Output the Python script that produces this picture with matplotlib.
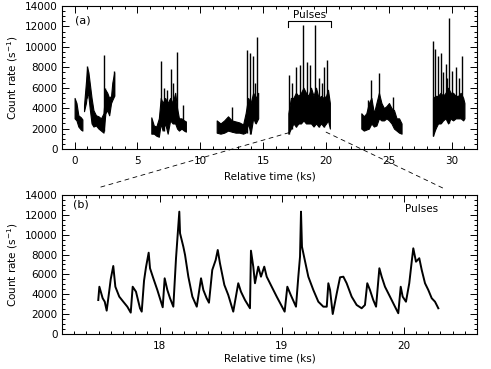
import matplotlib
matplotlib.use("Agg")
import matplotlib.pyplot as plt
from matplotlib.ticker import MultipleLocator
from matplotlib.patches import ConnectionPatch

# ---- panel (a): whole observation, band envelope per segment (ks, counts/s)
seg1_t = [0.0, 0.15, 0.3, 0.5, 0.62]
seg1_lo = [3000, 2800, 2200, 1900, 1800]
seg1_hi = [5000, 4500, 3300, 3100, 2900]

seg2_t = [0.75, 0.9, 1.0, 1.1, 1.2, 1.35, 1.5, 1.7, 1.9, 2.1, 2.3, 2.45, 2.6, 2.75, 2.9, 3.0, 3.15]
seg2_lo = [3700, 4500, 5500, 5200, 4000, 2500, 2200, 2300, 2000, 1800, 1600, 3500, 3800, 3300, 4500, 4800, 5200]
seg2_hi = [4300, 6500, 8000, 7500, 6500, 5000, 3800, 3300, 3200, 3000, 3500, 5800, 5500, 5000, 5200, 6500, 7500]

seg3_t = [6.1, 6.3, 6.5, 6.7, 6.85, 7.0, 7.2, 7.4, 7.6, 7.8, 8.0, 8.15, 8.3, 8.5, 8.7, 8.85]
seg3_lo = [1500, 1500, 1300, 1200, 2500, 1800, 2500, 1500, 2800, 2500, 2500, 2000, 1800, 2000, 1800, 1700]
seg3_hi = [3100, 2300, 2200, 3000, 5000, 4500, 5000, 4500, 5000, 4500, 5500, 4000, 3000, 3000, 2800, 2700]

seg4_t = [11.3, 11.6, 11.9, 12.2, 12.5, 12.8, 13.1, 13.4, 13.6, 13.8, 14.0, 14.2, 14.4, 14.6]
seg4_lo = [1600, 1500, 1600, 1800, 1700, 1600, 1600, 1500, 1600, 2500, 1500, 3000, 2500, 3000]
seg4_hi = [2800, 2500, 2800, 3200, 2800, 2700, 2600, 2400, 3500, 5000, 4500, 5500, 5000, 5500]

seg5_t = [17.0, 17.2, 17.4, 17.6, 17.8, 18.0, 18.2, 18.4, 18.6, 18.8, 19.0, 19.2, 19.4, 19.6, 19.8, 20.0, 20.15, 20.3]
seg5_lo = [1500, 2000, 2500, 2200, 2500, 2500, 2800, 2500, 2500, 2500, 2200, 2500, 2200, 2500, 2200, 2500, 2800, 2000]
seg5_hi = [3500, 5000, 5000, 5500, 5200, 5500, 6000, 5500, 5200, 6000, 5200, 6000, 5000, 5200, 5000, 5200, 5800, 4500]

seg6_t = [22.8, 23.0, 23.2, 23.4, 23.6, 23.8, 24.0, 24.2, 24.4, 24.6, 24.8, 25.0, 25.2, 25.4, 25.6, 25.8, 26.0]
seg6_lo = [2000, 1800, 1900, 2000, 2500, 2200, 2300, 3000, 2800, 2800, 3000, 2800, 2500, 2000, 1800, 1600, 1500]
seg6_hi = [3500, 3200, 3500, 4500, 5000, 3500, 4500, 5500, 4500, 4000, 4200, 4500, 4000, 3800, 3000, 3000, 2500]

seg7_t = [28.5, 28.7, 28.9, 29.1, 29.3, 29.5, 29.7, 29.9, 30.1, 30.3, 30.5, 30.7, 30.9, 31.0]
seg7_lo = [1300, 2000, 2500, 2500, 2800, 3000, 2500, 3000, 2800, 3000, 3000, 3000, 2800, 3000]
seg7_hi = [5000, 5200, 5200, 5500, 5200, 5500, 6000, 5500, 5500, 5200, 5200, 5500, 5000, 4500]

# flares sticking out of the band
spike_t = [1.0, 2.35, 2.45, 3.15,
           6.87, 7.1, 7.35, 7.65, 7.85, 8.12, 8.6,
           12.5, 13.7, 13.95, 14.2, 14.35, 14.5,
           17.05, 17.25, 17.6, 17.9, 18.15, 18.45, 18.75, 19.15, 19.45, 19.7, 19.85, 20.1,
           23.3, 23.6, 24.2, 25.3,
           28.52, 28.65, 28.9, 29.15, 29.3, 29.5, 29.6, 29.78, 30.05, 30.35, 30.55, 30.78]
spike_lo = [5000, 1800, 3500, 5200,
            2500, 1800, 2500, 2800, 2500, 2500, 2000,
            1700, 1600, 1500, 3000, 2500, 3000,
            1500, 2000, 2200, 2500, 2800, 2500, 2500, 2500, 2200, 2500, 2200, 2800,
            2000, 2500, 3000, 2500,
            1300, 2000, 2500, 2500, 2800, 3000, 3000, 2500, 2800, 3000, 3000, 3000]
spike_top = [8100, 9200, 6000, 7600,
             8600, 6000, 5800, 7800, 6500, 9500, 4300,
             4100, 9700, 9400, 9100, 6500, 11000,
             7200, 6500, 8000, 8200, 12100, 8500, 8200, 12100, 7000, 6500, 8000, 8700,
             4800, 6800, 7400, 5100,
             10600, 9800, 9100, 9400, 7500, 8300, 7000, 12800, 7600, 8000, 7000, 9100]

# ---- panel (b): zoom on the pulses
pulse_t = [17.497, 17.506, 17.533, 17.550, 17.566, 17.588, 17.599, 17.620, 17.637, 17.669,
           17.702, 17.735, 17.763, 17.779, 17.806, 17.839, 17.853, 17.872, 17.888, 17.910,
           17.921, 17.948, 17.981, 18.025, 18.041, 18.063, 18.085, 18.112, 18.134, 18.161,
           18.167, 18.194, 18.208, 18.235, 18.268, 18.304, 18.339, 18.358, 18.385, 18.404,
           18.431, 18.459, 18.476, 18.494, 18.530, 18.562, 18.603, 18.644, 18.666, 18.699,
           18.740, 18.748, 18.767, 18.781, 18.808, 18.830, 18.857, 18.877, 18.918, 18.959,
           19.024, 19.046, 19.074, 19.117, 19.136, 19.150, 19.158, 19.166, 19.183, 19.218,
           19.259, 19.300, 19.341, 19.369, 19.382, 19.396, 19.418, 19.451, 19.478, 19.505,
           19.532, 19.573, 19.614, 19.655, 19.682, 19.701, 19.723, 19.750, 19.773, 19.800,
           19.819, 19.846, 19.887, 19.928, 19.955, 19.975, 19.991, 20.018, 20.045, 20.065,
           20.078, 20.100, 20.127, 20.147, 20.174, 20.201, 20.229, 20.256, 20.283]
pulse_rate = [3420, 4760, 3600, 3250, 2350, 4430, 5510, 6850, 4760, 3760,
              3250, 2750, 2150, 4760, 4260, 2590, 2250, 5370, 6720, 8190,
              6620, 5610, 4430, 2690, 5610, 4430, 3600, 2750, 7630, 12320,
              10140, 8790, 7960, 5770, 3760, 2750, 5610, 4430, 3600, 3150,
              6450, 7450, 8460, 7120, 4940, 3930, 2250, 5110, 4260, 3420,
              2590, 8390, 6780, 5110, 6780, 5770, 6780, 5770, 4760, 3760,
              2250, 4760, 3930, 2750, 5770, 7790, 12320, 8790, 7790, 5770,
              4430, 3250, 2750, 2750, 5110, 4430, 2010, 4100, 5710, 5770,
              5110, 3760, 2920, 2590, 2920, 5110, 4430, 3420, 2750, 6620,
              5770, 4760, 3760, 2750, 2090, 4760, 3760, 3250, 5110, 7280,
              8630, 7280, 7630, 6450, 5110, 4430, 3600, 3250, 2590]

segments = [(seg1_t, seg1_lo, seg1_hi), (seg2_t, seg2_lo, seg2_hi), (seg3_t, seg3_lo, seg3_hi),
            (seg4_t, seg4_lo, seg4_hi), (seg5_t, seg5_lo, seg5_hi), (seg6_t, seg6_lo, seg6_hi),
            (seg7_t, seg7_lo, seg7_hi)]

plt.rcParams['font.family'] = ['DejaVu Sans']
plt.rcParams['font.size'] = 7.5

fig = plt.figure(figsize=(4.91, 3.69), dpi=100)
ax1 = fig.add_axes([0.1263, 0.5962, 0.8452, 0.3875])
ax2 = fig.add_axes([0.1263, 0.0949, 0.8452, 0.3767])

for t, lo, hi in segments:
    ax1.fill_between(t, lo, hi, color='k', lw=0.8, edgecolor='k')
ax1.vlines(spike_t, spike_lo, spike_top, color='k', lw=1.0)

ax2.plot(pulse_t, pulse_rate, color='k', lw=1.4)

ax1.set_xlim(-1, 32)
ax2.set_xlim(17.2, 20.6)
for ax in (ax1, ax2):
    ax.set_ylim(0, 14000)
    ax.yaxis.set_major_locator(MultipleLocator(2000))
    ax.yaxis.set_minor_locator(MultipleLocator(500))
    ax.tick_params(which='both', direction='in', top=True, right=True, width=0.7, colors='k')
    ax.tick_params(which='major', length=5, pad=3)
    ax.tick_params(which='minor', length=2.5)
    ax.tick_params(axis='x', pad=5)
    for s in ax.spines.values():
        s.set_linewidth(0.8)
    ax.set_ylabel('Count rate (s$^{-1}$)', labelpad=4)

ax1.set_xlabel('Relative time (ks)', labelpad=4)
ax2.set_xlabel('Relative time (ks)', labelpad=2)

ax1.xaxis.set_major_locator(MultipleLocator(5))
ax1.xaxis.set_minor_locator(MultipleLocator(1))
ax2.xaxis.set_major_locator(MultipleLocator(1))
ax2.xaxis.set_minor_locator(MultipleLocator(0.1))

ax1.text(0.031, 0.90, '(a)', transform=ax1.transAxes, ha='left', va='center', fontsize=8)
ax2.text(0.027, 0.928, '(b)', transform=ax2.transAxes, ha='left', va='center', fontsize=8)
ax2.text(0.867, 0.90, 'Pulses', transform=ax2.transAxes, ha='center', va='center')

# bracket over the pulse interval
ax1.plot([16.95, 16.95, 20.38, 20.38], [11970, 12500, 12500, 11970], color='k', lw=0.8)
ax1.text(18.65, 13150, 'Pulses', ha='center', va='center')

# dashed zoom lines
for xa, ya, xb in [(17.05, 1600, 17.49), (20.0, 1650, 20.32)]:
    con = ConnectionPatch(xyA=(xa, ya), coordsA=ax1.transData,
                          xyB=(xb, 1.05), coordsB=ax2.get_xaxis_transform(),
                          color='k', lw=0.6, linestyle=(0, (5, 5)))
    fig.add_artist(con)

fig.savefig('out.png', dpi=100)
